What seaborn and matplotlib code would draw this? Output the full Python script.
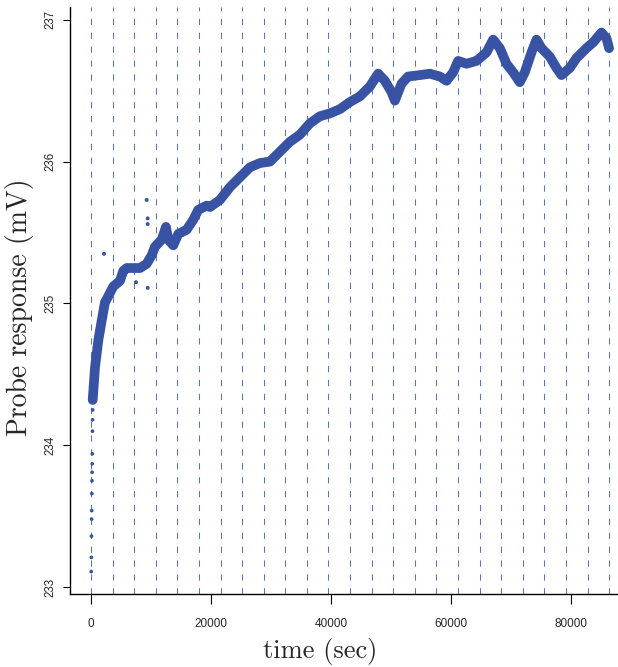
import matplotlib
matplotlib.use("Agg")
import matplotlib.pyplot as plt
import seaborn as sns
import pandas as pd

# ---- data ----
early_time = [40, 60, 80, 100, 120, 140, 160, 180, 200, 220, 240, 260, 280]
early_value = [233.11, 233.21, 233.36, 233.48, 233.54, 233.66, 233.75, 233.81,
               233.87, 233.94, 234.10, 234.18, 234.25]

time_sec = [283, 667, 1217, 1783, 2333, 2617, 3717, 4833, 5383, 5950, 8167, 9283,
            10117, 10667, 11783, 12500, 12883, 13717, 14550, 15950, 17050, 17883,
            19283, 19833, 21500, 23167, 24833, 26500, 28167, 29833, 31500, 33167,
            34833, 36500, 38167, 39833, 41500, 43167, 44833, 46500, 47883, 49000,
            50117, 50667, 51783, 52883, 54833, 56500, 58167, 59283, 60383, 61217,
            62617, 64283, 64833, 65950, 67050, 68167, 69283, 70383, 71500, 72333,
            73450, 74283, 75117, 76500, 77617, 78450, 79833, 80950, 82617, 83717,
            85117, 85950, 86383]
response_mv = [234.32, 234.55, 234.74, 234.88, 235.01, 235.03, 235.12, 235.16, 235.23,
               235.25, 235.25, 235.28, 235.34, 235.40, 235.45, 235.54, 235.45, 235.41,
               235.49, 235.52, 235.59, 235.66, 235.69, 235.68, 235.73, 235.82, 235.89,
               235.96, 235.99, 236.00, 236.07, 236.14, 236.19, 236.27, 236.32, 236.34,
               236.37, 236.42, 236.46, 236.53, 236.62, 236.57, 236.49, 236.43, 236.55,
               236.60, 236.61, 236.62, 236.60, 236.57, 236.63, 236.71, 236.69, 236.71,
               236.73, 236.77, 236.86, 236.80, 236.69, 236.63, 236.56, 236.63, 236.77,
               236.86, 236.80, 236.74, 236.66, 236.61, 236.66, 236.73, 236.80, 236.84,
               236.91, 236.87, 236.80]

outlier_time = [2167, 7500, 9283, 9450, 9450, 9450]
outlier_value = [235.35, 235.15, 235.73, 235.60, 235.56, 235.11]

hour_marks = [h * 3600 for h in range(25)]
x_ticks = [0, 20000, 40000, 60000, 80000]
y_ticks = [233, 234, 235, 236, 237]

# ---- style ----
sns.set_style("white")
plt.rcParams["lines.scale_dashes"] = False
point_color = "#3953a4"

fig = plt.figure(figsize=(6.18, 6.67), dpi=100)
ax = fig.add_axes([0.1133, 0.109, 0.885, 0.8805])

for h in hour_marks:
    ax.axvline(h, color="#5873c4", lw=0.75, dashes=(4.5, 5.5), zorder=1)

main = pd.DataFrame({"t": time_sec, "v": response_mv})
early = pd.DataFrame({"t": early_time, "v": early_value})
outl = pd.DataFrame({"t": outlier_time, "v": outlier_value})

sns.lineplot(data=main, x="t", y="v", ax=ax, color=point_color, lw=7.0,
             estimator=None, sort=False, solid_capstyle="round",
             solid_joinstyle="round", zorder=3)
sns.scatterplot(data=early, x="t", y="v", ax=ax, color=point_color, s=7,
                edgecolor="none", zorder=3)
sns.scatterplot(data=outl, x="t", y="v", ax=ax, color=point_color, s=8,
                edgecolor="none", zorder=3)

ax.set_xlim(-3500, 87700)
ax.set_ylim(232.95, 237.09)

ax.set_xticks(x_ticks)
ax.set_xticklabels([str(v) for v in x_ticks],
                   family=["Liberation Sans Narrow", "Liberation Sans"], fontsize=8.5)
ax.set_yticks(y_ticks)
ax.set_yticklabels([str(v) for v in y_ticks], rotation=90, va="center",
                   family=["Liberation Sans", "DejaVu Sans"], fontsize=8.3)

ax.tick_params(axis="x", direction="out", length=7, width=0.8, pad=10,
               bottom=True, color="black")
ax.tick_params(axis="y", direction="out", length=5, width=0.8, pad=5,
               left=True, color="black")

for side in ["top", "right"]:
    ax.spines[side].set_visible(False)
for side in ["left", "bottom"]:
    ax.spines[side].set_color("black")
    ax.spines[side].set_linewidth(1.0)

ax.set_xlabel("time (sec)", family=["cmr10", "Liberation Serif"], fontsize=19)
ax.set_ylabel("Probe response (mV)", family=["cmr10", "Liberation Serif"], fontsize=20)
ax.xaxis.set_label_coords(0.457, -0.074)
ax.yaxis.set_label_coords(-0.066, 0.489)

fig.savefig("out.png", dpi=100)
